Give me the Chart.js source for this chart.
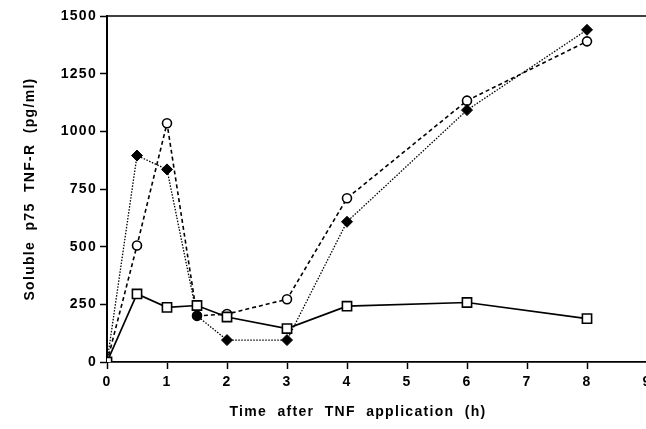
<!DOCTYPE html>
<html>
<head>
<meta charset="utf-8">
<script src="https://cdn.jsdelivr.net/npm/chart.js@4"></script>
<style>
html,body{margin:0;padding:0;background:#fff;overflow:hidden;}
#wrap{width:660px;height:429px;position:relative;}
</style>
</head>
<body>
<div id="wrap"><canvas id="c"></canvas></div>
<script>
const times = [0, 0.5, 1, 1.5, 2, 3, 4, 6, 8];
const squareSeries = [0, 295, 237, 245, 195, 145, 242, 258, 188];
const circleSeries = [0, 505, 1035, 200, 208, 272, 710, 1133, 1390];
const diamondSeries = [0, 895, 835, 200, 95, 95, 608, 1092, 1440];
const diamondStyles = ['rectRot','rectRot','rectRot','circle','rectRot','rectRot','rectRot','rectRot','rectRot'];
const xTicks = [0,1,2,3,4,5,6,7,8,9];
const yTicks = [0,250,500,750,1000,1250,1500];
const xTitle = 'Time  after  TNF  application  (h)';
const yTitle = 'Soluble  p75  TNF-R  (pg/ml)';

const toXY = arr => arr.map((v, i) => ({x: times[i], y: v}));
const FONT = "'Liberation Sans', Arial, sans-serif";
const LS = '1.3px';

const spacing = {
  id: 'spacing',
  beforeUpdate(chart){ chart.ctx.letterSpacing = LS; },
  beforeLayout(chart){ chart.ctx.letterSpacing = LS; },
  beforeDraw(chart){ chart.ctx.letterSpacing = LS; }
};
const extras = {
  id: 'extras',
  afterDraw(chart){
    const {ctx, chartArea:a} = chart;
    ctx.save();
    ctx.strokeStyle = '#000';
    ctx.lineWidth = 1.5;
    ctx.beginPath();
    ctx.moveTo(a.left, a.top);
    ctx.lineTo(a.right + 20, a.top);
    ctx.stroke();
    ctx.letterSpacing = LS;
    ctx.fillStyle = '#000';
    ctx.font = "bold 14px " + FONT;
    ctx.textAlign = 'center';
    ctx.textBaseline = 'middle';
    ctx.fillText(xTitle, a.left + 251, a.bottom + 50);
    ctx.restore();
  }
};

new Chart(document.getElementById('c'), {
  type: 'line',
  data: {
    datasets: [
      {
        order: 0,
        data: toXY(squareSeries),
        borderColor: '#000', borderWidth: 1.7,
        pointStyle: 'rect', pointRadius: 6.5, pointBorderWidth: 1.6,
        pointBackgroundColor: '#fff', pointBorderColor: '#000',
        tension: 0
      },
      {
        order: 2,
        data: toXY(circleSeries),
        borderColor: '#000', borderWidth: 1.6, borderDash: [4, 3],
        pointStyle: 'circle', pointRadius: 4.5, pointBorderWidth: 1.6,
        pointBackgroundColor: '#fff', pointBorderColor: '#000',
        tension: 0
      },
      {
        order: 1,
        data: toXY(diamondSeries),
        borderColor: '#000', borderWidth: 1.3, borderDash: [1.5, 1.5],
        pointStyle: diamondStyles,
        pointRadius: ctx => diamondStyles[ctx.dataIndex] === 'circle' ? 4.5 : 5.5,
        pointBorderWidth: 1,
        pointBackgroundColor: '#000', pointBorderColor: '#000',
        tension: 0
      }
    ]
  },
  options: {
    responsive: true, maintainAspectRatio: false, animation: false,
    layout: {padding: {left: 0, right: 13, top: 16, bottom: 0}},
    plugins: {legend: {display: false}, tooltip: {enabled: false}},
    scales: {
      x: {
        type: 'linear', min: 0, max: 9,
        afterBuildTicks(s){ s.ticks = xTicks.map(v => ({value: v})); },
        afterFit(s){ s.height = 67; s.paddingLeft = 0; s.paddingRight = 0; },
        grid: {drawOnChartArea: false, tickLength: 7, tickColor: '#000', tickWidth: 1.5},
        border: {color: '#000', width: 1.8},
        ticks: {color: '#000', padding: 5, maxRotation: 0, callback: v => String(v),
                font: {family: FONT, size: 14, weight: 'bold'}},
        title: {display: false}
      },
      y: {
        min: 0, max: 1500,
        afterBuildTicks(s){ s.ticks = yTicks.map(v => ({value: v})); },
        afterFit(s){ s.width = 107; s.paddingTop = 0; s.paddingBottom = 0; },
        grid: {drawOnChartArea: false, tickLength: 7, tickColor: '#000', tickWidth: 1.5},
        border: {color: '#000', width: 2},
        ticks: {color: '#000', padding: 3, callback: v => String(v),
                font: {family: FONT, size: 14, weight: 'bold'}},
        title: {display: true, text: yTitle, color: '#000', padding: {top: 22, bottom: 0},
                font: {family: FONT, size: 14, weight: 'bold'}}
      }
    }
  },
  plugins: [spacing, extras]
});
</script>
</body>
</html>
